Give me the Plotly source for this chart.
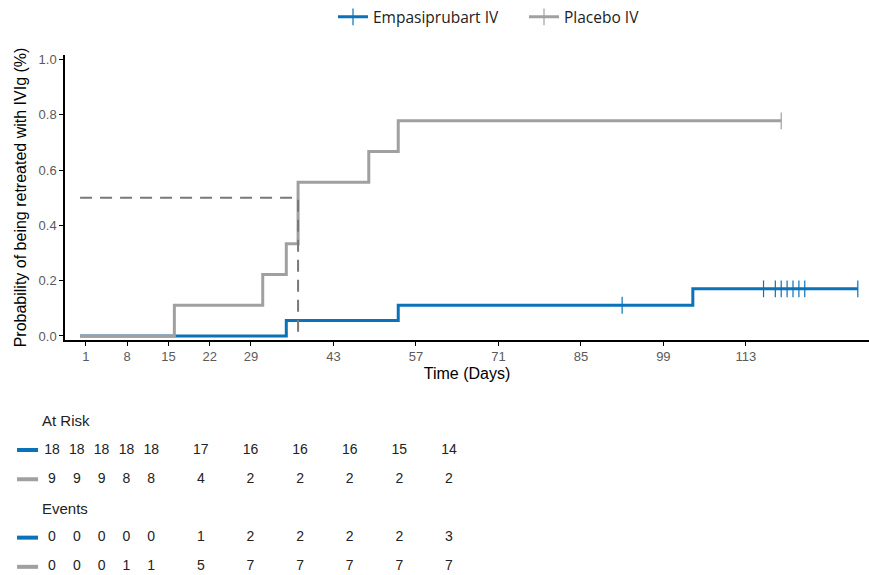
import plotly.graph_objects as go

# ---- Kaplan-Meier data (cumulative incidence) ----
emp_time = [0, 35, 54, 104, 132]
emp_prob = [0.0, 0.0556, 0.1111, 0.1704, 0.1704]
emp_cens_time = [92, 116, 118, 119, 120, 121, 122, 123, 132]
emp_cens_prob = [0.1111, 0.1704, 0.1704, 0.1704, 0.1704, 0.1704, 0.1704, 0.1704, 0.1704]

pla_time = [0, 16, 31, 35, 37, 49, 54, 119]
pla_prob = [0.0, 0.1111, 0.2222, 0.3333, 0.5556, 0.6667, 0.7778, 0.7778]
pla_cens_time = [119]
pla_cens_prob = [0.7778]

median_time = [0, 37, 37]
median_prob = [0.5, 0.5, 0.0]

# ---- risk table ----
table_days = [1, 8, 15, 22, 29, 43, 57, 71, 85, 99, 113]
emp_at_risk = [18, 18, 18, 18, 18, 17, 16, 16, 16, 15, 14]
pla_at_risk = [9, 9, 9, 8, 8, 4, 2, 2, 2, 2, 2]
emp_events = [0, 0, 0, 0, 0, 1, 2, 2, 2, 2, 3]
pla_events = [0, 0, 0, 1, 1, 5, 7, 7, 7, 7, 7]

xtick_vals = [1, 8, 15, 22, 29, 43, 57, 71, 85, 99, 113]
ytick_vals = [0.0, 0.2, 0.4, 0.6, 0.8, 1.0]

BLUE = "#0a72b8"
GRAY = "#a0a0a0"
DASH_GRAY = "#787878"
TXT = "#222222"
TICK = "#5a5a5a"
NARROW = "Liberation Sans Narrow, Arial Narrow, Liberation Sans, Arial, sans-serif"
SANS = "Liberation Sans, Arial, sans-serif"

fig = go.Figure()

# Empasiprubart
fig.add_trace(go.Scatter(x=emp_time, y=emp_prob, mode="lines", line=dict(color=BLUE, width=3, shape="hv"),
                         name="Empasiprubart IV", showlegend=False))
fig.add_trace(go.Scatter(x=emp_cens_time, y=emp_cens_prob, mode="markers",
                         marker=dict(symbol="line-ns", size=12, line=dict(color=BLUE, width=1.2)),
                         showlegend=False, hoverinfo="skip"))
# Placebo
fig.add_trace(go.Scatter(x=pla_time, y=pla_prob, mode="lines", line=dict(color=GRAY, width=3, shape="hv"),
                         name="Placebo IV", showlegend=False))
fig.add_trace(go.Scatter(x=pla_cens_time, y=pla_cens_prob, mode="markers",
                         marker=dict(symbol="line-ns", size=12, line=dict(color=GRAY, width=1.2)),
                         showlegend=False, hoverinfo="skip"))
# median line
fig.add_trace(go.Scatter(x=median_time, y=median_prob, mode="lines",
                         line=dict(color=DASH_GRAY, width=2, dash="12px,8px"),
                         showlegend=False, hoverinfo="skip"))

# legend entries
fig.add_trace(go.Scatter(x=[None], y=[None], mode="lines+markers", name="Empasiprubart IV",
                         line=dict(color=BLUE, width=3),
                         marker=dict(symbol="line-ns", size=12, line=dict(color=BLUE, width=1.2))))
fig.add_trace(go.Scatter(x=[None], y=[None], mode="lines+markers", name="Placebo IV",
                         line=dict(color=GRAY, width=3),
                         marker=dict(symbol="line-ns", size=12, line=dict(color=GRAY, width=1.2))))

# ---- risk table on second axis pair ----
rows = [(1, emp_at_risk, BLUE), (2, pla_at_risk, GRAY), (4, emp_events, BLUE), (5, pla_events, GRAY)]
LABEL_X = -5.9
for r, vals, col in rows:
    fig.add_trace(go.Scatter(x=table_days, y=[r] * len(vals), text=[str(v) for v in vals], mode="text",
                             textfont=dict(family=NARROW, size=14, color=TXT),
                             xaxis="x2", yaxis="y2", showlegend=False, hoverinfo="skip"))
    fig.add_trace(go.Scatter(x=[LABEL_X], y=[r], mode="markers",
                             marker=dict(symbol="line-ew", size=15, line=dict(color=col, width=4)),
                             xaxis="x2", yaxis="y2", showlegend=False, hoverinfo="skip"))

for r, label in [(0, "At Risk"), (3, "Events")]:
    fig.add_annotation(x=-2.4, y=r, xref="x2", yref="y2", text=label, showarrow=False,
                       xanchor="left", yanchor="middle", font=dict(family=NARROW, size=15, color=TXT))

fig.update_layout(
    width=869, height=575,
    margin=dict(l=0, r=0, t=0, b=0, autoexpand=False),
    paper_bgcolor="white", plot_bgcolor="white",
    showlegend=True,
    legend=dict(orientation="h", traceorder="normal", x=333 / 869, xanchor="left", y=0.970, yanchor="middle",
                font=dict(family="Open Sans, sans-serif", size=15.5, color=TXT),
                itemwidth=30, entrywidth=146, entrywidthmode="pixels", bgcolor="rgba(0,0,0,0)"),
    xaxis=dict(domain=[65 / 869, 1], range=[-2.56, 133.9], tickvals=xtick_vals,
               ticks="outside", ticklen=4, tickcolor="black", showline=True, linecolor="black", linewidth=1.5,
               showgrid=False, zeroline=False, tickfont=dict(family=SANS, size=13, color=TICK),
               title=dict(text="Time (Days)", font=dict(family=SANS, size=16, color="black"), standoff=4),
               anchor="y", automargin=False),
    yaxis=dict(domain=[1 - 340 / 575, 1 - 55 / 575], range=[-0.0145, 1.0157], tickvals=ytick_vals,
               tickformat=".1f", ticks="outside", ticklen=4, tickcolor="black", showline=True,
               linecolor="black", linewidth=1.5, showgrid=False, zeroline=False,
               tickfont=dict(family=SANS, size=13, color=TICK),
               title=dict(text="Probability of being retreated with IVIg (%)",
                          font=dict(family=SANS, size=16, color="black"), standoff=8),
               anchor="x", automargin=False),
    xaxis2=dict(domain=[0, 1], range=[-13.67, 231.5], visible=False, anchor="y2"),
    yaxis2=dict(domain=[0, 0.3], range=[5.28, -0.63], visible=False, anchor="x2"),
)

fig.write_html("out.html", config={"displayModeBar": False},
               post_script="document.body.style.margin='0';document.body.style.overflow='hidden';")
